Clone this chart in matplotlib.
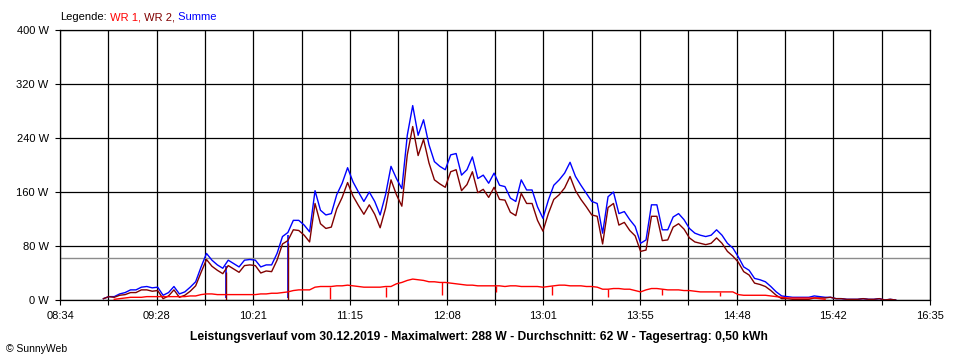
import numpy as np
import matplotlib
matplotlib.use("Agg")
import matplotlib.pyplot as plt

plt.rcParams['font.family'] = ['Liberation Sans', 'DejaVu Sans']

# samples every 3 minutes, first sample at 08:55
start = "08:55"
step_min = 3

summe = [None, 2, 5, 5, 9, 11, 15, 15, 19, 20,
         18, 19, 7, 11, 20, 9, 12, 19, 27, 49,
         69, 59, 52, 47, 59, 54, 49, 59, 60, 59,
         49, 52, 52, 69, 94, 100, 118, 118, 111, 101,
         162, 133, 126, 128, 156, 173, 196, 175, 160, 146,
         160, 146, 126, 156, 198, 180, 165, 244, 288, 244,
         267, 230, 205, 198, 193, 215, 217, 185, 193, 212,
         180, 185, 173, 188, 170, 168, 151, 146, 178, 163,
         163, 138, 121, 148, 170, 178, 188, 204, 183, 170,
         158, 146, 143, 99, 153, 160, 128, 131, 119, 109,
         84, 89, 141, 141, 104, 104, 123, 128, 119, 106,
         99, 96, 94, 96, 104, 96, 84, 77, 64, 49,
         44, 32, 30, 27, 20, 12, 6, 5, 4, 4,
         4, 4, 6, 5, 4, 4, 2, 2, 1, 1,
         1, 2, 1, 1, 2, 0, 1, 0]

wr1 = [None, None, None, 1, 2, 3, 4, 4, 4, 5,
       5, 5, 5, 5, 5, 5, 5, 6, 6, 8,
       9, 9, 8, 8, 8, 8, 8, 8, 8, 8,
       9, 9, 10, 10, 11, 12, 14, 15, 15, 15,
       19, 20, 20, 20, 21, 21, 22, 21, 20, 19,
       19, 19, 19, 20, 20, 24, 26, 29, 31, 30,
       29, 27, 27, 26, 26, 25, 24, 23, 22, 22,
       21, 21, 21, 21, 21, 20, 21, 21, 20, 20,
       20, 20, 19, 20, 21, 22, 22, 21, 21, 21,
       20, 20, 19, 16, 16, 17, 17, 16, 16, 14,
       12, 15, 17, 17, 16, 15, 15, 15, 14, 14,
       13, 12, 12, 12, 12, 12, 12, 12, 8, 7,
       7, 7, 7, 7, 6, 5, 4, 3, 3, 3,
       3, 3, 3, 2, 1, None, None, None, None, None,
       None, None, None, None, None, None, None, None]

# short drop-outs (time, low, high)
wr1_dip_times = ["11:03", "11:34", "12:05", "12:35", "13:06", "13:37", "14:07", "14:39"]
wr1_dip_low = [2, 5, 7, 12, 7, 5, 8, 6]
wr1_dip_high = [20, 20, 26, 21, 21, 16, 16, 12]
sum_dip_times = ["10:06", "10:40"]
sum_dip_low = [3, 3]
sum_dip_high = [50, 96]
wr2_dip_low = [0, 0]
wr2_dip_high = [42, 84]

x_labels = ["08:34", "09:28", "10:21", "11:15", "12:08", "13:01", "13:55", "14:48", "15:42", "16:35"]
y_ticks = [0, 80, 160, 240, 320, 400]
average = 62
title = ("Leistungsverlauf vom 30.12.2019 - Maximalwert: 288 W - Durchschnitt: 62 W"
         " - Tagesertrag: 0,50 kWh")


def to_min(s):
    h, m = s.split(":")
    return int(h) * 60 + int(m)


summe_a = np.array(summe, dtype=float)
wr1_a = np.array(wr1, dtype=float)
wr2_a = np.clip(summe_a - np.nan_to_num(wr1_a), 0, None)
t = to_min(start) + step_min * np.arange(len(summe))

fig = plt.figure(figsize=(9.6, 3.6), dpi=100)
ax = fig.add_axes([60 / 960, 60 / 360, 870 / 960, 270 / 360])

x0, x1 = to_min(x_labels[0]), to_min(x_labels[-1])
major = np.linspace(x0, x1, len(x_labels))
minor = (major[:-1] + major[1:]) / 2
ax.set_xlim(x0, x1)
ax.set_ylim(0, 400)
ax.set_xticks(major)
ax.set_xticklabels(x_labels)
ax.set_xticks(minor, minor=True)
ax.set_yticks(y_ticks)
ax.set_yticklabels([f"{v} W" for v in y_ticks])
ax.tick_params(which='both', direction='out', length=3.6, width=0.8, labelsize=8, pad=4.5)
ax.grid(which='both', color='black', lw=0.9)
ax.set_axisbelow(True)
for s in ax.spines.values():
    s.set_color('black')
    s.set_linewidth(0.9)

ax.axhline(average, color='#8c8c8c', lw=1.0, zorder=1.5)

sum_dt = [to_min(d) for d in sum_dip_times]
ax.plot(t, summe_a, color='#0000ff', lw=1.0, zorder=2)
ax.vlines(sum_dt, sum_dip_low, sum_dip_high, color='#0000ff', lw=1.2, zorder=2)
ax.plot(t, wr2_a, color='#800000', lw=1.0, zorder=3)
ax.vlines(sum_dt, wr2_dip_low, wr2_dip_high, color='#800000', lw=1.0, zorder=3)
ax.plot(t, wr1_a, color='#ff0000', lw=1.0, zorder=4)
ax.vlines([to_min(d) for d in wr1_dip_times], wr1_dip_low, wr1_dip_high,
          color='#ff0000', lw=1.0, zorder=4)

# legend line above the plot, one colour per word
txt = fig.text(60 / 960, 1 - 22 / 360, "Legende:", fontsize=8, va='bottom')
for s, c in [(" WR 1,", '#ff0000'), (" WR 2,", '#800000'), (" Summe", '#0000ff')]:
    txt = ax.annotate(s, xy=(1, 0), xycoords=txt, fontsize=8, color=c,
                      va='bottom', ha='left', annotation_clip=False)

fig.text(479 / 960, 1 - 337 / 360, title, ha='center', va='center',
         fontsize=8.7, fontweight='bold')
fig.text(6 / 960, 1 - 349 / 360, "© SunnyWeb", ha='left', va='center', fontsize=7.5)

fig.savefig("out.png", dpi=100)
